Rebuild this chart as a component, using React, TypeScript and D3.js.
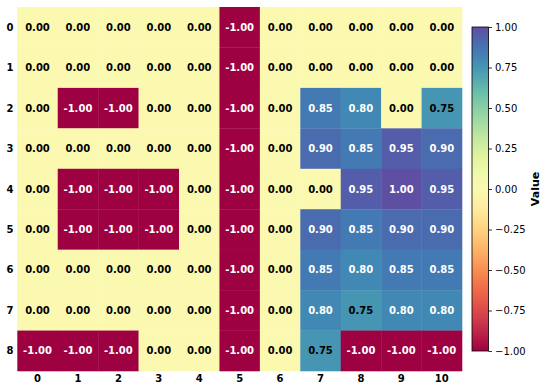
import { useEffect, useRef } from 'react'
import * as d3 from 'd3'

const rowLabels = ['0', '1', '2', '3', '4', '5', '6', '7', '8']
const colLabels = ['0', '1', '2', '3', '4', '5', '6', '7', '8', '9', '10']

const row0 = [0, 0, 0, 0, 0, -1, 0, 0, 0, 0, 0]
const row1 = [0, 0, 0, 0, 0, -1, 0, 0, 0, 0, 0]
const row2 = [0, -1, -1, 0, 0, -1, 0, 0.85, 0.8, 0, 0.75]
const row3 = [0, 0, 0, 0, 0, -1, 0, 0.9, 0.85, 0.95, 0.9]
const row4 = [0, -1, -1, -1, 0, -1, 0, 0, 0.95, 1.0, 0.95]
const row5 = [0, -1, -1, -1, 0, -1, 0, 0.9, 0.85, 0.9, 0.9]
const row6 = [0, 0, 0, 0, 0, -1, 0, 0.85, 0.8, 0.85, 0.85]
const row7 = [0, 0, 0, 0, 0, -1, 0, 0.8, 0.75, 0.8, 0.8]
const row8 = [-1, -1, -1, 0, 0, -1, 0, 0.75, -1, -1, -1]
const values = [row0, row1, row2, row3, row4, row5, row6, row7, row8]

const cbTicks = [-1, -0.75, -0.5, -0.25, 0, 0.25, 0.5, 0.75, 1]
const cbLabel = 'Value'

export default function App() {
  const svgRef = useRef<SVGSVGElement>(null)

  useEffect(() => {
    if (!svgRef.current) return
    const svg = d3.select(svgRef.current)
    svg.selectAll('*').remove()

    const font = 'DejaVu Sans, sans-serif'
    const hm = { left: 17.3, top: 7, right: 462, bottom: 371 }

    const x = d3.scaleBand<string>().domain(colLabels).range([hm.left, hm.right])
    const y = d3.scaleBand<string>().domain(rowLabels).range([hm.top, hm.bottom])
    const color = (v: number) => d3.interpolateSpectral((v + 1) / 2)

    const g = svg.append('g')
    values.forEach((row, ri) => {
      row.forEach((v, ci) => {
        g.append('rect')
          .attr('x', x(colLabels[ci])!).attr('y', y(rowLabels[ri])!)
          .attr('width', x.bandwidth() + 0.3).attr('height', y.bandwidth() + 0.3)
          .attr('fill', color(v))
        g.append('text')
          .attr('x', x(colLabels[ci])! + x.bandwidth() / 2)
          .attr('y', y(rowLabels[ri])! + y.bandwidth() / 2)
          .attr('text-anchor', 'middle').attr('dominant-baseline', 'central')
          .attr('font-family', font).attr('font-size', 10).attr('font-weight', 'bold')
          .attr('fill', Math.abs(v) > 0.77 ? '#ffffff' : '#000000')
          .text(v.toFixed(2))
      })
    })

    rowLabels.forEach(r => {
      svg.append('text')
        .attr('x', 10).attr('y', y(r)! + y.bandwidth() / 2)
        .attr('text-anchor', 'middle').attr('dominant-baseline', 'central')
        .attr('font-family', font).attr('font-size', 10).attr('font-weight', 'bold')
        .text(r)
    })
    colLabels.forEach(c => {
      svg.append('text')
        .attr('x', x(c)! + x.bandwidth() / 2).attr('y', 382)
        .attr('text-anchor', 'middle')
        .attr('font-family', font).attr('font-size', 10).attr('font-weight', 'bold')
        .text(c)
    })

    // colorbar
    const cb = { x: 472, w: 16.5, top: 27, bottom: 351 }
    const cy = d3.scaleLinear().domain([-1, 1]).range([cb.bottom, cb.top])
    const defs = svg.append('defs')
    const grad = defs.append('linearGradient').attr('id', 'cbgrad')
      .attr('x1', 0).attr('y1', 1).attr('x2', 0).attr('y2', 0)
    d3.range(0, 1.0001, 0.05).forEach(t => {
      grad.append('stop').attr('offset', t).attr('stop-color', d3.interpolateSpectral(t))
    })
    svg.append('rect')
      .attr('x', cb.x).attr('y', cb.top)
      .attr('width', cb.w).attr('height', cb.bottom - cb.top)
      .attr('fill', 'url(#cbgrad)')
      .attr('stroke', '#000').attr('stroke-width', 0.8)

    const axis = d3.axisRight(cy)
      .tickValues(cbTicks)
      .tickSize(3.5)
      .tickPadding(3)
      .tickFormat(d => (d as number).toFixed(2).replace('-', '\u2212'))
    const ag = svg.append('g')
      .attr('transform', `translate(${cb.x + cb.w},0)`)
      .call(axis)
    ag.select('.domain').remove()
    ag.selectAll('text').attr('font-family', font).attr('font-size', 10).attr('fill', '#000')
    ag.selectAll('line').attr('stroke', '#000').attr('stroke-width', 0.8)

    svg.append('text')
      .attr('transform', `translate(535,${(cb.top + cb.bottom) / 2}) rotate(-90)`)
      .attr('text-anchor', 'middle').attr('dominant-baseline', 'central')
      .attr('font-family', font).attr('font-size', 11).attr('font-weight', 'bold')
      .text(cbLabel)
  }, [])

  return (
    <div style={{ position: 'fixed', left: 0, top: 0, width: 548, height: 391, background: '#fff' }}>
      <svg ref={svgRef} width={548} height={391} style={{ display: 'block' }} />
    </div>
  )
}
